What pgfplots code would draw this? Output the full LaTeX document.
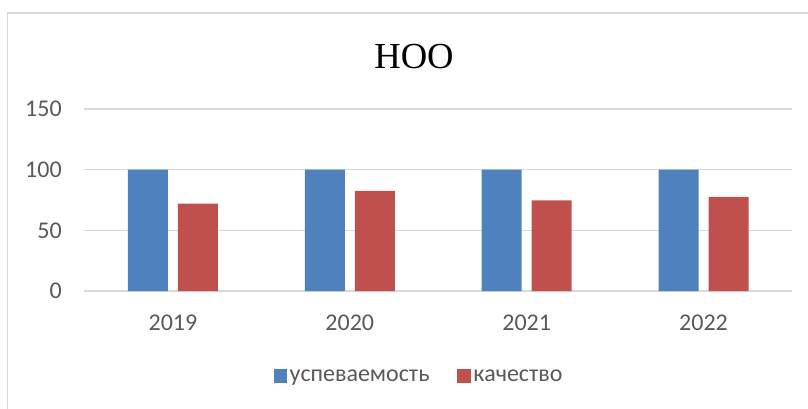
\documentclass[border=0pt]{standalone}
\usepackage{pgfplots}
\pgfplotsset{compat=1.18}
\usepackage{fontspec}
\setmainfont{Carlito}
\newfontfamily\titlefont{Liberation Serif}
\definecolor{cblue}{HTML}{4F81BD}
\definecolor{cred}{HTML}{C0504D}
\definecolor{tgray}{HTML}{595959}
\definecolor{ggray}{HTML}{D9D9D9}
\begin{document}
\begin{tikzpicture}
\path[use as bounding box] (0pt,0pt) rectangle (606pt,306pt);
\draw[ggray, line width=1.2pt] (5.625pt,-4pt) -- (5.625pt,296.25pt) -- (612pt,296.25pt);
\node[anchor=base, inner sep=0pt] at (310.5pt,254.8pt) {\titlefont\fontsize{27.5}{27.5}\selectfont НОО};
\begin{axis}[
  at={(63.375pt,87.75pt)}, anchor=south west,
  scale only axis, width=530.6pt, height=136.5pt,
  ymin=0, ymax=150, ytick={0,50,100,150},
  xmin=-0.5, xmax=3.5, xtick={0,1,2,3},
  xticklabels={2019,2020,2021,2022},
  axis line style={draw=none},
  major tick length=0pt,
  ymajorgrids, grid style={ggray, line width=1.1pt},
  /pgf/number format/assume math mode=true,
  /pgf/number format/1000 sep={},
  tick label style={font=\fontsize{18}{18}\selectfont, text=tgray},
  yticklabel style={inner sep=0pt, anchor=east, xshift=-16.9pt},
  xticklabel style={inner sep=0pt, anchor=center, yshift=-23.5pt},
  ybar, bar width=30pt, ybar=7.5pt,
  legend columns=2,
  legend style={at={(rel axis cs:0.4735,-0.4725)}, anchor=center, draw=none,
    font=\fontsize{18}{18}\selectfont, text=tgray,
    /tikz/every even column/.append style={column sep=19pt}},
  legend image code/.code={\fill[#1] (0pt,-4.2pt) rectangle (10pt,5.8pt);},
]
\addplot[fill=cblue, draw=none] coordinates {(0,100) (1,100) (2,100) (3,100)};
\addplot[fill=cred, draw=none] coordinates {(0,72) (1,82.5) (2,74.7) (3,77.5)};
\legend{успеваемость, качество}
\end{axis}
\end{tikzpicture}
\end{document}
